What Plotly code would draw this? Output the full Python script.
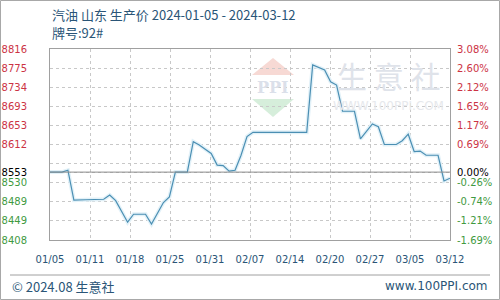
import plotly.graph_objects as go
import pandas as pd

# ---- data ----
dates = ["2024-01-05", "2024-01-07", "2024-01-08", "2024-01-09", "2024-01-11", "2024-01-14",
         "2024-01-15", "2024-01-16", "2024-01-18", "2024-01-19", "2024-01-21", "2024-01-22",
         "2024-01-24", "2024-01-25", "2024-01-26", "2024-01-28", "2024-01-29", "2024-01-30",
         "2024-02-01", "2024-02-02", "2024-02-03", "2024-02-04", "2024-02-05", "2024-02-06",
         "2024-02-07", "2024-02-08", "2024-02-17", "2024-02-18", "2024-02-20", "2024-02-21",
         "2024-02-22", "2024-02-23", "2024-02-25", "2024-02-26", "2024-02-28", "2024-02-29",
         "2024-03-01", "2024-03-03", "2024-03-04", "2024-03-05", "2024-03-06", "2024-03-07",
         "2024-03-08", "2024-03-10", "2024-03-11", "2024-03-12"]
prices = [8553, 8553, 8557, 8493, 8494, 8495,
          8504, 8492, 8446, 8463, 8463, 8442,
          8488, 8500, 8553, 8553, 8618, 8611,
          8593, 8568, 8567, 8555, 8557, 8589,
          8629, 8638, 8638, 8782, 8771, 8746,
          8739, 8683, 8683, 8624, 8656, 8650,
          8612, 8612, 8620, 8634, 8597, 8598,
          8589, 8589, 8534, 8540]
base_value = 8553
y_min, y_max = 8408, 8816
x_tick_labels = ["01/05", "01/11", "01/18", "01/25", "01/31", "02/07",
                 "02/14", "02/20", "02/27", "03/05", "03/12"]
left_labels = ["8408", "8449", "8489", "8530", "", "8612", "8653", "8693", "8734", "8775", "8816"]
right_labels = ["-1.69%", "-1.21%", "-0.74%", "-0.26%", "", "0.69%", "1.17%", "1.65%", "2.12%", "2.60%", "3.08%"]

RED = "#cc3344"
GREEN = "#3f9a3f"
BLUE = "#2a5577"

# ---- axes config ----
start = pd.Timestamp(dates[0])
end = pd.Timestamp(dates[-1])
span = (end - start) / (len(x_tick_labels) - 1)
x_tickvals = [start + span * i for i in range(len(x_tick_labels))]

step = (y_max - y_min) / 10
y_grid = [y_min + step * i for i in range(11)]

def colored(lbls, vals):
    out = []
    for t, v in zip(lbls, vals):
        c = RED if v > base_value else GREEN
        out.append(f'<span style="color:{c}">{t}</span>' if t else "")
    return out

y_tickvals = y_grid + [base_value]
left_text = colored(left_labels, y_grid) + ['<span style="color:#000000">8553</span>']
right_text = colored(right_labels, y_grid) + ['<span style="color:#000000">0.00%</span>']

fig = go.Figure()
fig.add_trace(go.Scatter(x=dates, y=prices, mode="lines",
                         line=dict(color="#e2f1f8", width=4), hoverinfo="skip", showlegend=False))
fig.add_trace(go.Scatter(x=dates, y=prices, mode="lines",
                         line=dict(color="#4b8fb3", width=1.2), showlegend=False))
fig.add_trace(go.Scatter(x=dates, y=prices, mode="lines", yaxis="y2",
                         line=dict(color="rgba(0,0,0,0)", width=0), hoverinfo="skip", showlegend=False))

# px -> paper helpers (plot area: x 50..450, y 49..240)
def px(x):
    return (x - 50) / 400
def py(y):
    return (240 - y) / 191

shapes = []
# watermark logo
shapes.append(dict(type="path", xref="paper", yref="paper",
                   path=f"M {px(273)} {py(58)} L {px(294)} {py(75)} L {px(252)} {py(75)} Z",
                   fillcolor="#f7d9d4", line=dict(width=0), layer="below"))
shapes.append(dict(type="path", xref="paper", yref="paper",
                   path=f"M {px(252)} {py(99)} L {px(294)} {py(99)} L {px(273)} {py(117)} Z",
                   fillcolor="#d6eedb", line=dict(width=0), layer="below"))
# baseline
shapes.append(dict(type="line", xref="paper", yref="y", x0=0, x1=1, y0=base_value, y1=base_value,
                   line=dict(color="#8c8c8c", width=1)))
# footer separator
shapes.append(dict(type="line", xref="paper", yref="paper", x0=px(10), x1=px(490), y0=py(275), y1=py(275),
                   line=dict(color="#a0a0a0", width=1)))
# outer border
shapes.append(dict(type="rect", xref="paper", yref="paper", x0=px(0.5), x1=px(499.5), y0=py(299.5), y1=py(0.5),
                   line=dict(color="#a8a8a8", width=1)))

annotations = [
    dict(text="汽油 山东 生产价 2024-01-05 - 2024-03-12", x=px(50), y=py(15), xref="paper", yref="paper",
         xanchor="left", yanchor="middle", showarrow=False,
         font=dict(family="Noto Sans CJK SC", size=13, color=BLUE)),
    dict(text="牌号:92#", x=px(50), y=py(33), xref="paper", yref="paper",
         xanchor="left", yanchor="middle", showarrow=False,
         font=dict(family="Noto Sans CJK SC", size=13, color=BLUE)),
    dict(text="© 2024.08 生意社", x=px(10), y=py(286), xref="paper", yref="paper",
         xanchor="left", yanchor="middle", showarrow=False,
         font=dict(family="Noto Sans CJK SC", size=13, color=BLUE)),
    dict(text="www.100PPI.com", x=px(490), y=py(286), xref="paper", yref="paper",
         xanchor="right", yanchor="middle", showarrow=False,
         font=dict(family="DejaVu Sans", size=12, color=BLUE)),
    dict(text="生 意 社", x=px(388), y=py(75), xref="paper", yref="paper",
         xanchor="center", yanchor="middle", showarrow=False,
         font=dict(family="Noto Sans CJK SC", size=30, color="#dfe3ea")),
    dict(text="WWW.100PPI.COM", x=px(388), y=py(106), xref="paper", yref="paper",
         xanchor="center", yanchor="middle", showarrow=False,
         font=dict(family="DejaVu Sans", size=12, color="#e6e8ec")),
    dict(text="<b>PPI</b>", x=px(273), y=py(87), xref="paper", yref="paper",
         xanchor="center", yanchor="middle", showarrow=False,
         font=dict(family="DejaVu Serif", size=16, color="#dbe0ea")),
]

fig.update_layout(
    width=500, height=300,
    margin=dict(l=50, r=50, t=49, b=60),
    paper_bgcolor="white", plot_bgcolor="white",
    showlegend=False,
    shapes=shapes, annotations=annotations,
    xaxis=dict(type="date", range=[start, end], tickmode="array", tickvals=x_tickvals,
               ticktext=x_tick_labels, showgrid=True, gridcolor="#c8c8c8", griddash="dot", gridwidth=1,
               showline=True, linecolor="#a0a0a0", mirror=True, zeroline=False, automargin=False,
               ticks="outside", ticklen=10, tickcolor="rgba(0,0,0,0)",
               tickfont=dict(family="DejaVu Sans", size=10, color=BLUE)),
    yaxis=dict(range=[y_min, y_max], tickmode="array", tickvals=y_tickvals, ticktext=left_text,
               showgrid=True, gridcolor="#c8c8c8", griddash="dot", gridwidth=1,
               showline=True, linecolor="#a0a0a0", mirror=True, zeroline=False, automargin=False,
               ticks="outside", ticklen=20, tickcolor="rgba(0,0,0,0)",
               tickfont=dict(family="DejaVu Sans", size=10)),
    yaxis2=dict(range=[y_min, y_max], overlaying="y", side="right", tickmode="array",
                tickvals=y_tickvals, ticktext=right_text, showgrid=False, zeroline=False, automargin=False,
                ticks="outside", ticklen=4, tickcolor="rgba(0,0,0,0)",
                tickfont=dict(family="DejaVu Sans", size=10)),
)

fig.write_html("out.html")
